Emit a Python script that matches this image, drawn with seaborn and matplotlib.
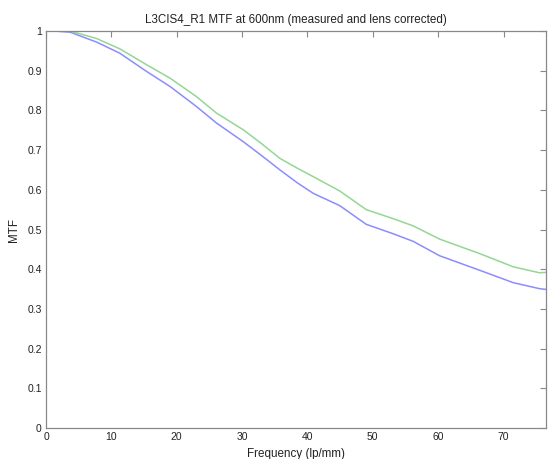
import matplotlib
matplotlib.use("Agg")
import matplotlib.pyplot as plt
import seaborn as sns
import numpy as np
import pandas as pd

# frequency samples (lp/mm)
freq = [1.2, 3.7, 7.75, 11.3, 15.4, 19.0, 23.0, 26.1, 30.2, 33.0, 35.8, 38.5, 40.9,
        44.95, 49.0, 53.0, 56.2, 60.2, 66.4, 71.5, 75.5, 76.5]
mtf_corrected = [1.0, 1.0, 0.981, 0.955, 0.915, 0.881, 0.835, 0.793, 0.751, 0.716, 0.679, 0.654, 0.633,
                 0.597, 0.550, 0.528, 0.509, 0.476, 0.439, 0.406, 0.391, 0.392]
mtf_measured = [1.0, 0.997, 0.972, 0.944, 0.898, 0.860, 0.810, 0.768, 0.721, 0.686, 0.650, 0.617, 0.591,
                0.560, 0.513, 0.490, 0.470, 0.434, 0.397, 0.366, 0.351, 0.349]
x_ticks = [0, 10, 20, 30, 40, 50, 60, 70]
y_ticks = [0, 0.1, 0.2, 0.3, 0.4, 0.5, 0.6, 0.7, 0.8, 0.9, 1]
y_tick_labels = ["0", "0.1", "0.2", "0.3", "0.4", "0.5", "0.6", "0.7", "0.8", "0.9", "1"]

df = pd.DataFrame({
    "freq": freq * 2,
    "mtf": mtf_measured + mtf_corrected,
    "kind": ["measured"] * len(freq) + ["corrected"] * len(freq),
})

sns.set_style("white")
plt.rcParams['font.family'] = ['Liberation Sans', 'DejaVu Sans']

fig = plt.figure(figsize=(5.48, 4.59), dpi=100)
ax = fig.add_axes([46 / 548, 31 / 459, 500 / 548, 397 / 459])

sns.lineplot(data=df, x="freq", y="mtf", hue="kind",
             palette={"measured": "#8c8cff", "corrected": "#94d694"},
             linewidth=1.1, legend=False, ax=ax)

ax.set_xlim(0, 76.5)
ax.set_ylim(0, 1)
ax.set_xticks(x_ticks)
ax.set_yticks(y_ticks)
ax.set_yticklabels(y_tick_labels)
ax.tick_params(direction="in", length=4, width=0.8, color="#888888",
               labelsize=7.5, labelcolor="#222222", top=True, right=True, pad=3)
for s in ax.spines.values():
    s.set_color("#888888")
    s.set_linewidth(0.9)

ax.set_title("L3CIS4_R1 MTF at 600nm (measured and lens corrected)",
             fontsize=8.4, color="#222222", pad=6)
ax.set_xlabel("Frequency (lp/mm)", fontsize=8.4, color="#222222", labelpad=4)
ax.set_ylabel("MTF", fontsize=8.4, color="#222222", labelpad=5)

fig.savefig("out.png", dpi=100)
plt.close()
